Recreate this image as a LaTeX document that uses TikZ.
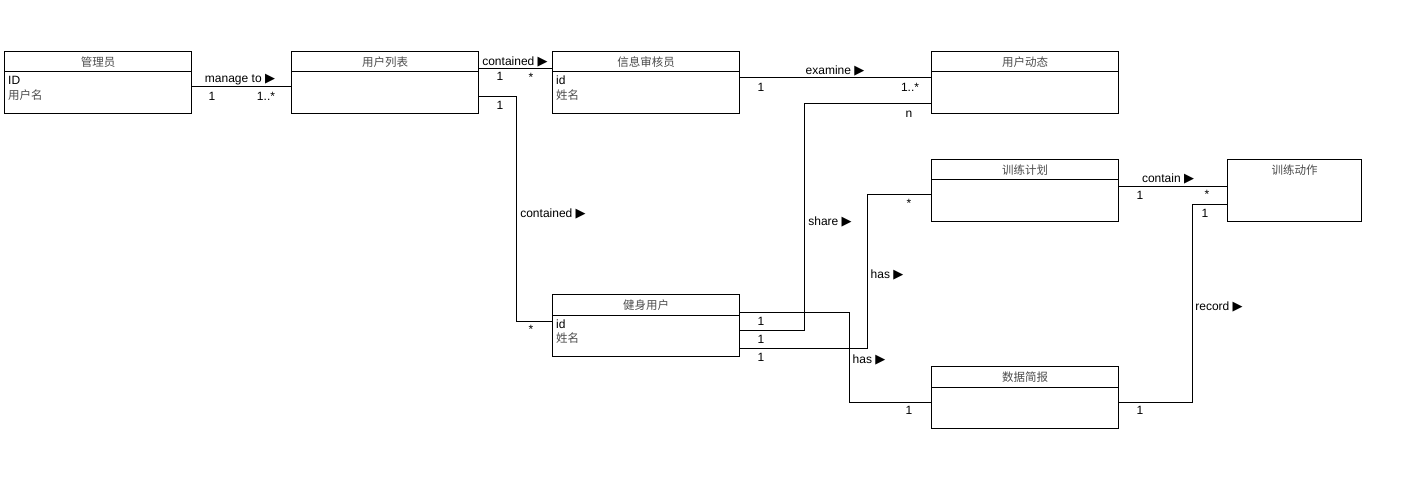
\documentclass[tikz,border=0pt]{standalone}
\usepackage{fontspec}
\setmainfont{Liberation Sans}
\newfontfamily\cjk{Noto Sans CJK SC}
\newfontfamily\dv{DejaVu Sans}
\newcommand{\tri}{{\dv\fontsize{13}{14}\selectfont ▶}}
\newcommand{\zh}[1]{{\cjk\fontsize{11.5}{14}\selectfont\color{black!70}#1}}
\begin{document}
\begin{tikzpicture}[x=1pt,y=-1pt,
  font=\fontsize{12}{14}\selectfont,
  cls/.style={draw, line width=1pt, inner sep=0pt, anchor=north west,
    minimum width=187pt, minimum height=62pt},
  clsn/.style={cls, minimum width=134pt},
  ttl/.style={inner sep=0pt},
  attr/.style={inner sep=0pt, anchor=west},
  lbl/.style={inner sep=0pt},
  conn/.style={line width=1pt}]
\useasboundingbox[fill=white] (0,0) rectangle (1412,494);

% classes
\node[cls] (adm) at (4,51) {};
\node[cls] (ul) at (291,51) {};
\node[cls] (aud) at (552,51) {};
\node[cls] (dyn) at (931,51) {};
\node[cls] (plan) at (931,159) {};
\node[clsn] (act) at (1227,159) {};
\node[cls] (fit) at (552,294) {};
\node[cls] (rep) at (931,366) {};

% header dividers
\foreach \n in {adm,ul,aud,dyn,plan,fit,rep}
  \draw[line width=1pt] ([yshift=-21pt]\n.north west) -- ([yshift=-21pt]\n.north east);

% titles
\node[ttl] (t1) at ([yshift=-11pt]adm.north) {\zh{管理员}};
\node[ttl] (t2) at ([yshift=-11pt]ul.north) {\zh{用户列表}};
\node[ttl] (t3) at ([yshift=-11pt]aud.north) {\zh{信息审核员}};
\node[ttl] (t4) at ([yshift=-11pt]dyn.north) {\zh{用户动态}};
\node[ttl] (t5) at ([yshift=-11pt]plan.north) {\zh{训练计划}};
\node[ttl] (t6) at ([yshift=-11pt]act.north) {\zh{训练动作}};
\node[ttl] (t7) at ([yshift=-11pt]fit.north) {\zh{健身用户}};
\node[ttl] (t8) at ([yshift=-11pt]rep.north) {\zh{数据简报}};

% attributes
\node[attr] (a1) at ([xshift=4pt,yshift=-29pt]adm.north west) {ID};
\node[attr] (a2) at ([xshift=4pt,yshift=-44.5pt]adm.north west) {\zh{用户名}};
\node[attr] (a3) at ([xshift=4pt,yshift=-29pt]aud.north west) {id};
\node[attr] (a4) at ([xshift=4pt,yshift=-44.5pt]aud.north west) {\zh{姓名}};
\node[attr] (a5) at ([xshift=4pt,yshift=-30pt]fit.north west) {id};
\node[attr] (a6) at ([xshift=4pt,yshift=-44.5pt]fit.north west) {\zh{姓名}};

% connectors
\draw[conn] ([yshift=-36pt]adm.north east) -- ([yshift=-36pt]ul.north west);
\draw[conn] ([yshift=-18pt]ul.north east) -- ([yshift=-18pt]aud.north west);
\draw[conn] ([yshift=-46pt]ul.north east) -- ++(37,0) |- ([yshift=-27pt]fit.north west);
\draw[conn] ([yshift=-27pt]aud.north east) -- ([yshift=-27pt]dyn.north west);
\draw[conn] ([yshift=-36pt]fit.north east) -- ++(64,0) |- ([yshift=-53pt]dyn.north west);
\draw[conn] ([yshift=-54pt]fit.north east) -- ++(127,0) |- ([yshift=-36pt]plan.north west);
\draw[conn] ([yshift=-18pt]fit.north east) -- ++(109,0) |- ([yshift=-36pt]rep.north west);
\draw[conn] ([yshift=-28pt]plan.north east) -- ([yshift=-28pt]act.north west);
\draw[conn] ([yshift=-36pt]rep.north east) -- ++(73,0) |- ([yshift=-46pt]act.north west);

% labels
\node[lbl] (l1) at (240,80) {manage to \tri};
\node[lbl] (l2) at (212,96) {1};
\node[lbl] (l3) at (266,96) {1..*};
\node[lbl] (l4) at (515,62) {contained \tri};
\node[lbl] (l5) at (500,76) {1};
\node[lbl] (l6) at (531,77) {*};
\node[lbl] (l7) at (500,105) {1};
\node[lbl] (l8) at (553,214) {contained \tri};
\node[lbl] (l9) at (531,329) {*};
\node[lbl] (l10) at (835,71) {examine \tri};
\node[lbl] (l11) at (761,87) {1};
\node[lbl] (l12) at (910,87) {1..*};
\node[lbl] (l13) at (830,222) {share \tri};
\node[lbl] (l14) at (761,321) {1};
\node[lbl] (l15) at (909,114) {n};
\node[lbl] (l16) at (887,275) {has \tri};
\node[lbl] (l17) at (909,203) {*};
\node[lbl] (l18) at (761,339) {1};
\node[lbl] (l19) at (869,360) {has \tri};
\node[lbl] (l20) at (761,357) {1};
\node[lbl] (l21) at (909,410) {1};
\node[lbl] (l22) at (1168,179) {contain \tri};
\node[lbl] (l23) at (1140,195) {1};
\node[lbl] (l24) at (1207,194) {*};
\node[lbl] (l25) at (1205,213) {1};
\node[lbl] (l26) at (1219,307) {record \tri};
\node[lbl] (l27) at (1140,410) {1};
\end{tikzpicture}
\end{document}
